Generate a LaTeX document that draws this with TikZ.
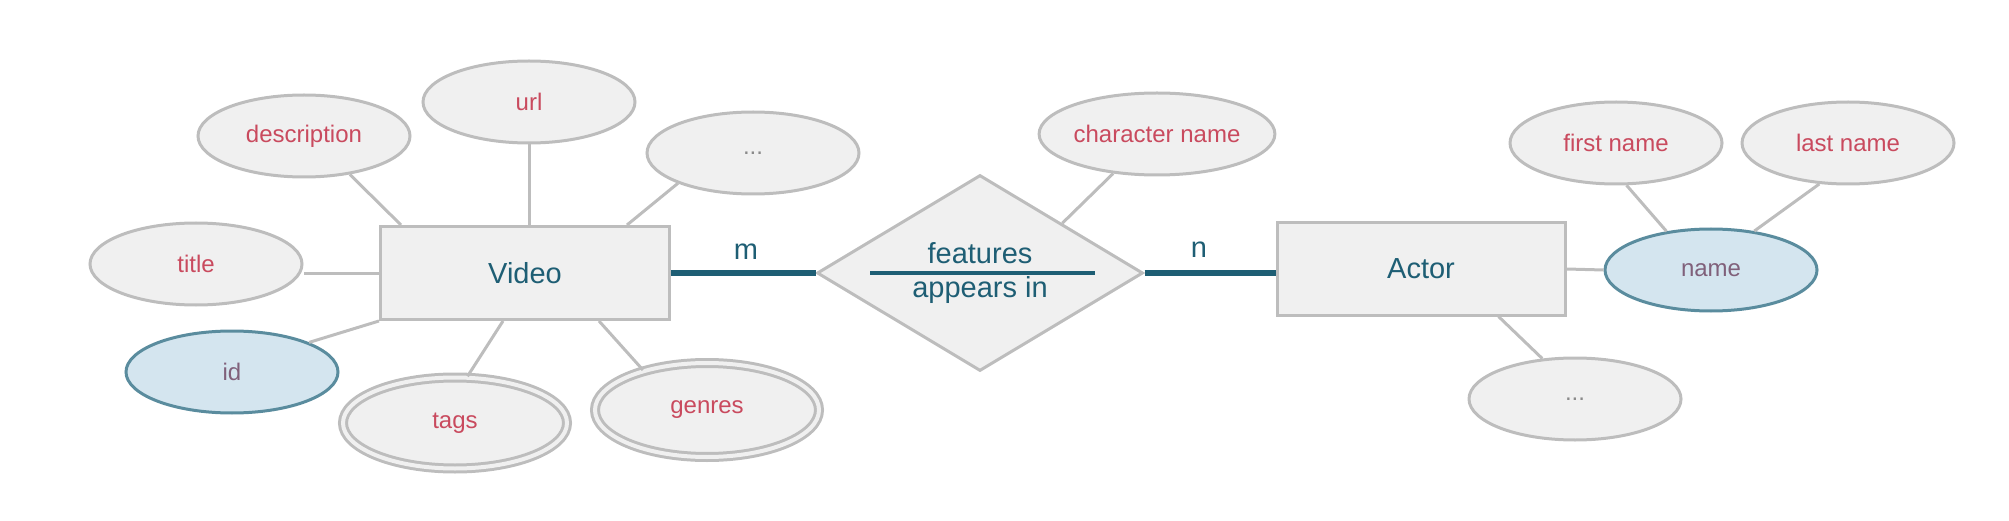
\documentclass[tikz,border=0pt]{standalone}
\usepackage{fontspec}
\setmainfont{Liberation Sans}
\usetikzlibrary{shapes.geometric}
\definecolor{gfill}{HTML}{F0F0F0}
\definecolor{gline}{HTML}{BDBDBD}
\definecolor{bfill}{HTML}{D4E5EF}
\definecolor{bline}{HTML}{5A8C9E}
\definecolor{attrtxt}{HTML}{C94A5E}
\definecolor{keytxt}{HTML}{80607A}
\definecolor{tealc}{HTML}{1E5E74}
\definecolor{dotstxt}{HTML}{8A8A8A}
\begin{document}
\begin{tikzpicture}[x=1pt,y=-1pt,
  attr/.style={ellipse, draw=gline, fill=gfill, line width=3pt,
    minimum width=212pt, minimum height=82pt, inner sep=0pt,
    text=attrtxt, font=\fontsize{24}{28}\selectfont},
  keyattr/.style={attr, draw=bline, fill=bfill, text=keytxt},
  multiattr/.style={attr, double=gfill, double distance=4pt,
    minimum width=224pt},
  entity/.style={rectangle, draw=gline, fill=gfill, line width=3pt,
    minimum width=289pt, minimum height=93pt, inner sep=0pt,
    text=tealc, font=\fontsize{29}{34}\selectfont},
  relshape/.style={diamond, draw=gline, fill=gfill, line width=3pt,
    minimum width=326pt, minimum height=196pt, inner sep=0pt},
  reltext/.style={text=tealc, font=\fontsize{29}{34}\selectfont, inner sep=0pt},
  conn/.style={draw=gline, line width=3pt},
  relline/.style={draw=tealc, line width=6pt},
  card/.style={text=tealc, font=\fontsize{29}{34}\selectfont}
]
\useasboundingbox (0,0) rectangle (2009,521);

% entities and relationship
\node[entity] (video) at (525,273) {Video};
\node[entity, minimum width=288pt, minimum height=92pt] (actor) at (1421,269) {Actor};
\node[relshape] (rel) at (980,273) {};
\node[reltext, anchor=base] (feat) at (980,263) {features};
\node[reltext, anchor=base] (appr) at (980,298) {appears in};
\coordinate (sepL) at (870,273);
\coordinate (sepR) at (1095,273);
\draw[draw=tealc, line width=4pt] (sepL) -- (sepR);

% Video attributes
\node[attr] (desc) at (304,136) {description};
\node[attr] (url) at (529,102) {url};
\node[attr, text=dotstxt] (dotsA) at (753,153) {...};
\node[attr] (title) at (196,264) {title};
\node[keyattr] (id) at (232,372) {id};
\node[multiattr, minimum height=91pt] (tags) at (455,423) {tags};
\node[multiattr, minimum height=94pt] (genres) at (707,410) {genres};

% relationship attribute
\node[attr] (charname) at (1157,134) {character name};

% Actor attributes
\node[keyattr] (name) at (1711,270) {name};
\node[attr] (first) at (1616,143) {first name};
\node[attr] (last) at (1848,143) {last name};
\node[attr, text=dotstxt] (dotsB) at (1575,399) {...};

% connectors
\draw[conn] (desc.-40) -- ([xshift=22pt]video.north west);
\draw[conn] (url.south) -- (url.south |- video.north);
\draw[conn] (dotsA.202) -- ([xshift=-44pt]video.north east);
\draw[conn] (video.west) -- (video.west -| title.east);
\draw[conn] (id.21) -- (video.south west);
\draw[conn] (tags.75) -- ([xshift=124pt]video.south west);
\draw[conn] (genres.148) -- ([xshift=220pt]video.south west);
\draw[conn] (rel.north east) -- (charname.222);
\draw[conn] (actor.east) -- (name.west);
\draw[conn] (first.-76) -- (name.139);
\draw[conn] (last.-125) -- (name.42);
\draw[conn] ([xshift=223pt]actor.south west) -- (dotsB.129);

% relationship lines
\draw[relline] (video.east) -- (rel.west);
\draw[relline] (rel.east) -- (rel.east -| actor.west);
\node[card] (m) at (746,252) {m};
\node[card] (n) at (1199,250) {n};
\end{tikzpicture}
\end{document}
